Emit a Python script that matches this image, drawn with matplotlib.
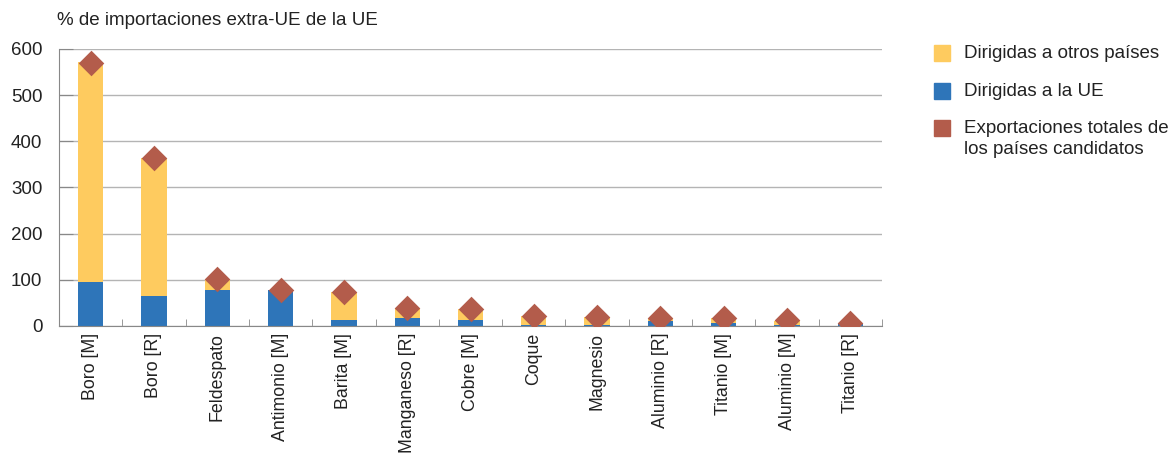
import matplotlib.pyplot as plt
from matplotlib.patches import Rectangle
import numpy as np

plt.rcParams['font.family'] = ['Liberation Sans', 'DejaVu Sans']

categorias = ['Boro [M]', 'Boro [R]', 'Feldespato', 'Antimonio [M]', 'Barita [M]',
              'Manganeso [R]', 'Cobre [M]', 'Coque', 'Magnesio', 'Aluminio [R]',
              'Titanio [M]', 'Aluminio [M]', 'Titanio [R]']
a_ue = [96, 64, 78, 78, 13, 17, 14, 1.5, 3, 11.5, 7, 2, 5]
a_otros = [476, 299, 23, 0, 60, 22, 22, 20.5, 16, 5.5, 10, 9.5, 2]
total = [570, 363, 102, 79, 74, 40, 37, 22, 19, 17, 17, 12, 6]

amarillo = '#FECB5F'
azul = '#2E75B9'
rojo = '#B35C4B'

fig = plt.figure(figsize=(11.71, 4.57), dpi=100)
ax = fig.add_axes([0.0504, 0.2867, 0.7028, 0.6061])

x = np.arange(len(categorias))
ax.bar(x, a_ue, width=0.4, color=azul, zorder=2)
ax.bar(x, a_otros, bottom=a_ue, width=0.4, color=amarillo, zorder=2)
ax.scatter(x, total, marker='D', s=170, color=rojo, zorder=3, linewidths=0)

ax.set_xlim(-0.5, len(categorias) - 0.5)
ax.set_ylim(0, 600)
ax.set_yticks(range(0, 601, 100))
ax.yaxis.grid(True, color='#b4b4b4', linewidth=1)
ax.set_axisbelow(True)
for s in ['top', 'right']:
    ax.spines[s].set_visible(False)
ax.spines['left'].set_color('#888888')
ax.spines['bottom'].set_color('#888888')
ax.tick_params(axis='y', length=10, direction='in', color='#888888',
               labelsize=13.5, labelcolor='#222222', pad=12)
ax.set_xticks(x)
ax.set_xticklabels(categorias, rotation=90, fontsize=12.8, color='#222222')
ax.tick_params(axis='x', length=0, pad=5)
ax.set_xticks(np.arange(-0.5, len(categorias)), minor=True)
ax.tick_params(axis='x', which='minor', length=5, direction='in', color='#888888')

fig.text(0.049, 0.955, '% de importaciones extra-UE de la UE', fontsize=13.5,
         color='#222222', va='center', ha='left')

leyenda = [(amarillo, 'Dirigidas a otros países', 53),
           (azul, 'Dirigidas a la UE', 91),
           (rojo, 'Exportaciones totales de\nlos países candidatos', 128)]
for col, txt, yp in leyenda:
    fig.add_artist(Rectangle((934 / 1171, 1 - (yp + 8) / 457), 16 / 1171, 16 / 457,
                             transform=fig.transFigure, color=col))
    fig.text(964 / 1171, 1 - (yp - 8) / 457, txt, fontsize=13.5, color='#222222',
             va='top', ha='left', linespacing=1.3)

fig.savefig('out.png', dpi=100)
